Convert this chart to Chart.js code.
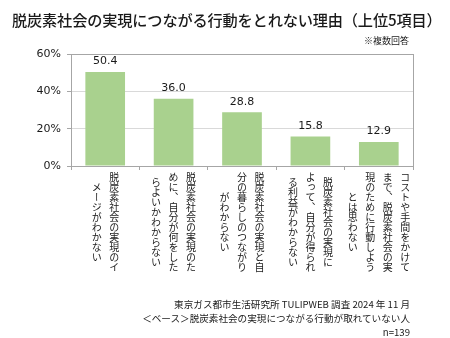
<!DOCTYPE html>
<html>
<head>
<meta charset="utf-8">
<script src="https://cdn.jsdelivr.net/npm/chart.js@4/dist/chart.umd.min.js"></script>
<style>
  body { margin: 0; background: #fff; }
  #wrap { position: relative; width: 450px; height: 338px; overflow: hidden; font-family: "Noto Sans CJK JP", sans-serif; color: #1a1a1a; }
  #myChart { position: absolute; left: 0; top: 0; }
  .title { position: absolute; left: 12px; top: 8px; font-size: 15.2px; font-weight: 500; white-space: nowrap; letter-spacing: -0.15px; }
  .note { position: absolute; right: 41px; top: 34px; font-size: 9px; }
  .foot { position: absolute; right: 40px; top: 297px; font-size: 9.6px; line-height: 14px; text-align: right; white-space: nowrap; }
  .cat { position: absolute; top: 170px; height: 104px; writing-mode: vertical-rl; text-orientation: mixed;
         font-size: 10px; line-height: 17.5px; text-align: center; white-space: nowrap; }
</style>
</head>
<body>
<div id="wrap">
  <canvas id="myChart" width="450" height="338"></canvas>
  <div class="title">脱炭素社会の実現につながる行動をとれない理由（上位5項目）</div>
  <div class="note">※複数回答</div>
  <div class="foot">東京ガス都市生活研究所 TULIPWEB 調査 2024 年 11 月<br>＜ベース＞脱炭素社会の実現につながる行動が取れていない人<br>n=139</div>
</div>
<script>
// categories: each entry holds the label columns (read right to left)
const categories = [
	['脱炭素社会の実現のイ', 'メージがわかない'],
	['脱炭素社会の実現のた', 'めに、自分が何をした', 'らよいかわからない'],
	['脱炭素社会の実現と自', '分の暮らしのつながり', 'がわからない'],
	['脱炭素社会の実現に', 'よって、自分が得られ', 'る利益がわからない'],
	['コストや手間をかけて', 'まで、脱炭素社会の実', '現のために行動しよう', 'とは思わない']
];
const values = [50.4, 36.0, 28.8, 15.8, 12.9];
const yTicks = [0, 20, 40, 60];

const labels = categories.map(c => c.join(''));

// value labels above each bar
const valueLabels = {
	id: 'valueLabels',
	afterDatasetsDraw(chart) {
		const ctx = chart.ctx;
		const meta = chart.getDatasetMeta(0);
		ctx.save();
		ctx.font = '11px "DejaVu Sans"';
		ctx.fillStyle = '#1a1a1a';
		ctx.textAlign = 'center';
		ctx.textBaseline = 'bottom';
		meta.data.forEach((bar, i) => {
			ctx.fillText(values[i].toFixed(1), bar.x, bar.y - 5);
		});
		ctx.restore();
	}
};

// grey frame round the plot area
const frame = {
	id: 'frame',
	afterDraw(chart) {
		const a = chart.chartArea;
		const ctx = chart.ctx;
		ctx.save();
		ctx.strokeStyle = '#a6a6a6';
		ctx.lineWidth = 1;
		ctx.strokeRect(Math.round(a.left) + 0.5, Math.round(a.top) + 0.5, Math.round(a.right - a.left), Math.round(a.bottom - a.top));
		ctx.restore();
	}
};

// vertical (tategaki) category labels as html text
const catLabels = {
	id: 'catLabels',
	afterRender(chart) {
		if (chart._catDone) return;
		chart._catDone = true;
		const wrap = document.getElementById('wrap');
		const x = chart.scales.x;
		categories.forEach((cols, i) => {
			const d = document.createElement('div');
			d.className = 'cat';
			d.innerHTML = cols.join('<br>');
			wrap.appendChild(d);
			const w = d.offsetWidth;
			d.style.left = (x.getPixelForValue(i) - w / 2) + 'px';
		});
	}
};

const ctx = document.getElementById('myChart').getContext('2d');
const myChart = new Chart(ctx, {
	type: 'bar',
	data: {
		labels: labels,
		datasets: [{
			data: values,
			backgroundColor: '#a9d18e',
			categoryPercentage: 1,
			barPercentage: 0.58
		}]
	},
	options: {
		responsive: false,
		animation: false,
		layout: { padding: { top: 54, right: 37, left: 0, bottom: 0 } },
		plugins: { legend: { display: false }, tooltip: { enabled: false } },
		scales: {
			x: {
				afterFit(scale) { scale.height = 172; },
				grid: { offset: true, drawOnChartArea: false, tickLength: 4, color: '#a6a6a6' },
				border: { color: '#a6a6a6' },
				ticks: { display: false }
			},
			y: {
				min: 0,
				max: 60,
				afterFit(scale) { scale.width = 71; },
				afterBuildTicks(scale) { scale.ticks = yTicks.map(v => ({ value: v })); },
				grid: { color: '#d9d9d9', tickLength: 4, tickColor: '#a6a6a6' },
				border: { color: '#a6a6a6' },
				ticks: {
					padding: 6,
					color: '#1a1a1a',
					font: { family: 'DejaVu Sans', size: 11 },
					callback: v => v + '%'
				}
			}
		}
	},
	plugins: [valueLabels, frame, catLabels]
});
</script>
</body>
</html>
